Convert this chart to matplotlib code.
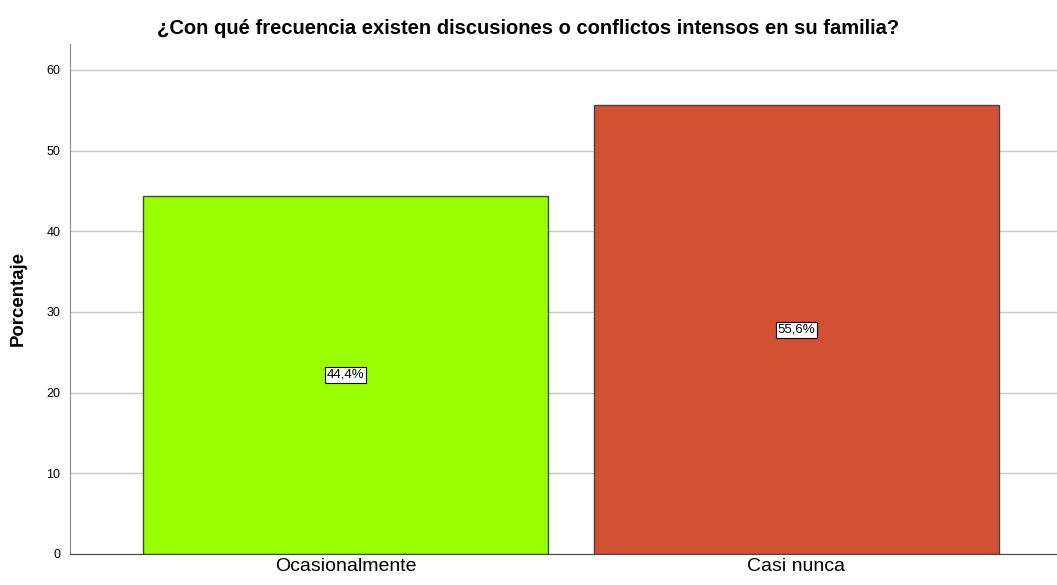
import matplotlib.pyplot as plt

plt.rcParams['font.family'] = ['Liberation Sans', 'DejaVu Sans']

categories = ['Ocasionalmente', 'Casi nunca']
percentages = [44.4, 55.6]
labels = ['44,4%', '55,6%']
colors = ['#99ff00', '#d05232']

fig = plt.figure(figsize=(10.57, 5.85), dpi=100)
ax = fig.add_axes([70 / 1057, 31 / 585, 987 / 1057, 510 / 585])

x = list(range(len(categories)))
ax.bar(x, percentages, width=0.898, color=colors, edgecolor='#444444', linewidth=1, zorder=3)

for xi, v, lab in zip(x, percentages, labels):
    ax.text(xi, v / 2, lab, ha='center', va='center', fontsize=9.5,
            bbox=dict(boxstyle='square,pad=0.15', facecolor='white', edgecolor='black', linewidth=0.8),
            zorder=4)

ax.set_xlim(-0.611, 1.578)
ax.set_ylim(0, 63.2)
ax.set_yticks([0, 10, 20, 30, 40, 50, 60])
ax.set_xticks(x)
ax.set_xticklabels(categories, fontsize=14)
ax.tick_params(axis='y', labelsize=9, length=0, pad=7)
ax.tick_params(axis='x', length=0, pad=3)
ax.yaxis.grid(True, color='#c8c8c8', linewidth=1, zorder=0)

for s in ['top', 'right']:
    ax.spines[s].set_visible(False)
ax.spines['left'].set_color('#888888')
ax.spines['bottom'].set_color('#444444')

ax.set_ylabel('Porcentaje', fontsize=13.4, fontweight='bold', labelpad=14)
fig.text(0.5, 1 - 28 / 585, '¿Con qué frecuencia existen discusiones o conflictos intensos en su familia?',
         ha='center', va='center', fontsize=14.5, fontweight='bold')

fig.savefig('out.png', dpi=100)
